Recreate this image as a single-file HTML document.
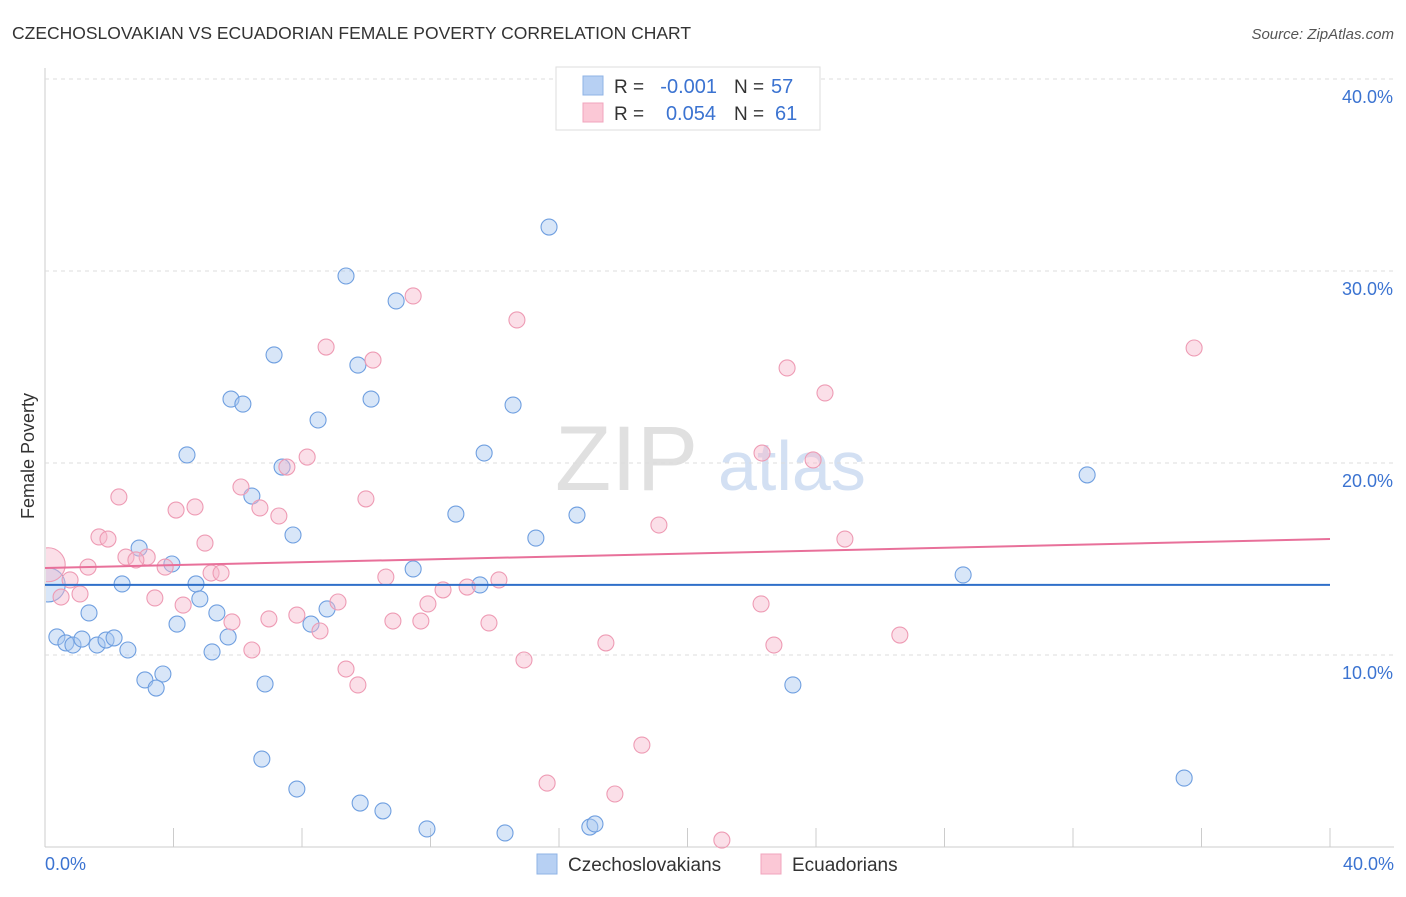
<!DOCTYPE html>
<html><head><meta charset="utf-8"><style>
body{margin:0;background:#fff;font-family:"Liberation Sans",sans-serif;}
svg text{font-family:"Liberation Sans",sans-serif;}
</style></head><body>
<svg id="chart" width="1406" height="892">
<defs><clipPath id="plotclip"><rect x="46" y="60" width="1360" height="800"/></clipPath></defs>
<text x="12" y="39" font-size="17.5" fill="#333">CZECHOSLOVAKIAN VS ECUADORIAN FEMALE POVERTY CORRELATION CHART</text>
<text x="1394" y="39" font-size="15" fill="#555" font-style="italic" text-anchor="end">Source: ZipAtlas.com</text>
<text x="34" y="456" font-size="18" fill="#333" transform="rotate(-90 34 456)" text-anchor="middle">Female Poverty</text>
<text x="555" y="490" font-size="92" fill="#e0e0e0" font-family="Liberation Serif">ZIP</text>
<text x="718" y="490" font-size="70" fill="#d3e0f3">atlas</text>
<g id="grid"></g><g id="pts" clip-path="url(#plotclip)"></g><g id="lines"></g>
<g>
<rect x="556" y="67" width="264" height="63" fill="#fff" stroke="#ddd"/>
<rect x="583" y="76" width="20" height="19" fill="#b7d0f3" stroke="#8fb3e6"/>
<rect x="583" y="103" width="20" height="19" fill="#fbc8d6" stroke="#f0a5bd"/>
<text x="614" y="93" font-size="19" fill="#333">R =</text>
<text x="717" y="93" font-size="20" fill="#3b73d1" text-anchor="end">-0.001</text>
<text x="734" y="93" font-size="19" fill="#333">N =</text>
<text x="771" y="93" font-size="20" fill="#3b73d1">57</text>
<text x="614" y="120" font-size="19" fill="#333">R =</text>
<text x="716" y="120" font-size="20" fill="#3b73d1" text-anchor="end">0.054</text>
<text x="734" y="120" font-size="19" fill="#333">N =</text>
<text x="775" y="120" font-size="20" fill="#3b73d1">61</text>
</g>
<g>
<rect x="537" y="854" width="20" height="20" fill="#b7d0f3" stroke="#8fb3e6"/>
<text x="568" y="871" font-size="19" fill="#333">Czechoslovakians</text>
<rect x="761" y="854" width="20" height="20" fill="#fbc8d6" stroke="#f0a5bd"/>
<text x="792" y="871" font-size="19" fill="#333">Ecuadorians</text>
</g>
<text x="45" y="870" font-size="18" fill="#3b73d1">0.0%</text>
<text x="1394" y="870" font-size="18" fill="#3b73d1" text-anchor="end">40.0%</text>
</svg>
<script>
const blueX=[15.69,9.37,10.93,7.13,9.74,5.79,6.16,10.15,14.57,8.50,4.42,13.67,7.38,6.44,12.79,16.56,7.72,15.28,2.93,3.95,11.46,28.58,32.44,2.40,4.70,13.54,4.82,8.78,1.37,5.35,8.28,4.11,0.37,0.65,0.87,1.15,1.62,1.90,2.15,2.58,5.70,5.20,3.11,3.67,3.46,6.85,23.28,6.75,7.84,9.81,10.52,11.89,14.32,16.96,17.12,35.46,0.10];
const blueY=[32.29,29.74,28.44,25.63,25.10,23.33,23.07,23.33,23.02,22.24,20.42,20.52,19.79,18.28,17.34,17.29,16.25,16.09,15.57,14.74,14.48,14.17,19.38,13.70,13.70,13.65,12.92,12.40,12.19,12.19,11.61,11.61,10.94,10.63,10.52,10.83,10.52,10.78,10.89,10.26,10.94,10.16,8.70,9.01,8.28,8.49,8.44,4.58,3.02,2.29,1.88,0.94,0.73,1.04,1.20,3.59,13.65];
const pinkX=[11.46,14.69,8.75,10.21,35.77,23.10,24.28,22.32,23.91,8.16,7.53,6.10,2.30,9.99,4.67,4.08,6.69,7.28,19.11,1.68,1.96,24.90,4.98,2.52,3.18,2.83,3.74,1.34,5.17,5.48,10.61,14.13,0.78,13.14,12.39,0.50,1.09,3.42,4.30,9.12,11.92,22.29,7.84,6.97,5.82,10.83,11.70,13.82,8.56,26.61,17.46,22.69,6.44,14.91,9.37,9.74,18.58,15.63,17.74,21.07,0.10];
const pinkY=[28.70,27.45,26.04,25.36,25.99,24.95,23.65,20.52,20.16,20.31,19.79,18.75,18.23,18.13,17.71,17.55,17.66,17.24,16.77,16.15,16.04,16.04,15.83,15.10,15.10,14.95,14.58,14.58,14.27,14.27,14.06,13.91,13.91,13.54,13.39,13.02,13.18,12.97,12.60,12.76,12.66,12.66,12.08,11.88,11.72,11.77,11.77,11.67,11.25,11.04,10.63,10.52,10.26,9.74,9.27,8.44,5.31,3.33,2.76,0.36,14.70];
const yTicks=[10,20,30,40];
const blueTrend=[13.65,13.65];
const pinkTrend=[14.53,16.04];
const NS='http://www.w3.org/2000/svg';
const sx=v=>45+v*32.125, sy=v=>847-v*19.2;
function mk(t,a,p){const e=document.createElementNS(NS,t);for(const k in a)e.setAttribute(k,a[k]);document.getElementById(p).appendChild(e);return e;}
const g='grid';
const ax=mk('line',{x1:45,y1:68,x2:45,y2:847,stroke:'#ccc'},g);


const bx=mk('line',{x1:45,y1:847,x2:1394,y2:847,stroke:'#ccc'},g);


for(let i=1;i<=10;i++){const t=mk('line',{x1:sx(i*4),y1:828,x2:sx(i*4),y2:847,stroke:'#ccc'},g);

}
yTicks.forEach(v=>{const l=mk('line',{x1:45,y1:sy(v),x2:1394,y2:sy(v),stroke:'#ddd','stroke-dasharray':'4,4'},g);


const t=mk('text',{x:1393,y:sy(v)+24,'font-size':18,fill:'#3b73d1','text-anchor':'end'},g);t.textContent=v.toFixed(1)+'%';

});
function pts(X,Y,f,s,n){X.forEach((x,i)=>{const big=(i===X.length-1);const c=mk('circle',{cx:sx(x),cy:sy(Y[i]),r:big?17:8,fill:f,'fill-opacity':0.45,stroke:s,'stroke-width':1.1},'pts');

});}
pts(blueX,blueY,'#a9c8f0','#6f9fe0','czechoslovakian-point');
pts(pinkX,pinkY,'#f7b9cc','#ee9bb4','ecuadorian-point');
const l1=mk('line',{x1:sx(0),y1:sy(blueTrend[0]),x2:sx(40),y2:sy(blueTrend[1]),stroke:'#2f6fc9','stroke-width':2},'lines');


const l2=mk('line',{x1:sx(0),y1:sy(pinkTrend[0]),x2:sx(40),y2:sy(pinkTrend[1]),stroke:'#e8709a','stroke-width':2},'lines');


</script>
</body></html>
